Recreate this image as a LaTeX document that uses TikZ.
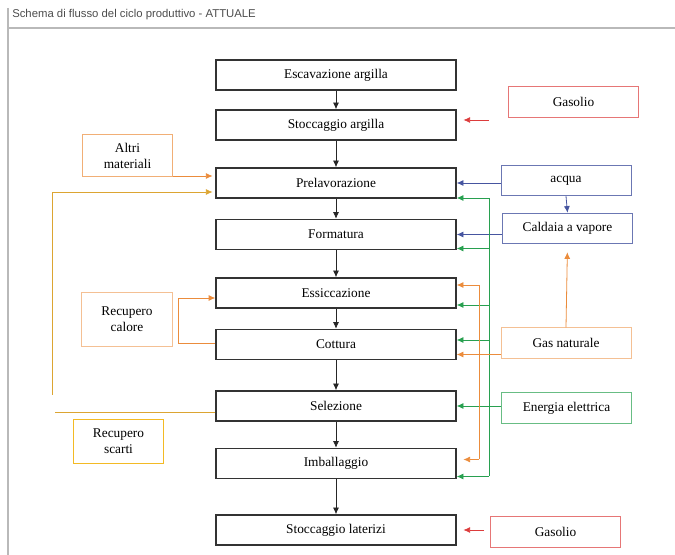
\documentclass[tikz,border=0pt]{standalone}
\usepackage{fontspec}
\setmainfont{Liberation Serif}
\newfontfamily\titlefont{Liberation Sans}
\usetikzlibrary{arrows.meta,calc}

\definecolor{cred}{RGB}{220,60,60}
\definecolor{cblue}{RGB}{70,85,160}
\definecolor{cgreen}{RGB}{40,160,80}
\definecolor{corange}{RGB}{235,140,60}
\definecolor{cyellow}{RGB}{220,165,50}

\begin{document}
\begin{tikzpicture}[x=0.75pt,y=0.75pt,yscale=-1,
  fase/.style={draw=black!80,line width=1.1pt,fill=white,minimum width=180pt,minimum height=22.5pt,inner sep=0.75pt,font=\fontsize{10}{12}\selectfont},
  ingresso/.style={draw,line width=0.6pt,minimum width=97.5pt,minimum height=23pt,inner sep=0.75pt,font=\fontsize{10}{12}\selectfont},
  laterale/.style={draw,line width=0.6pt,minimum width=68pt,inner sep=0.75pt,align=center,font=\fontsize{10}{12}\selectfont},
  freccia/.style={-{Latex[length=5pt,width=4.5pt]},line width=0.6pt},
  linea/.style={line width=0.6pt}]
\useasboundingbox (0,0) rectangle (675,555);

% Frame and title
\draw [color=gray!55,line width=0.8pt] (8,8) -- (8,555) ;
\draw [color=gray!55,line width=0.8pt] (8,28) -- (675,28) ;
\node (titolo) [anchor=west,inner sep=0.75pt,text=black!70,font=\titlefont\fontsize{8.5}{10}\selectfont] at (11,15) {Schema di flusso del ciclo produttivo - ATTUALE};

% Fasi del ciclo
\node (esc)  [fase] at (336,75)    {Escavazione argilla};
\node (stoA) [fase] at (336,125)   {Stoccaggio argilla};
\node (prel) [fase] at (336,183)   {Prelavorazione};
\node (form) [fase] at (336,234.5) {Formatura};
\node (ess)  [fase] at (336,293)   {Essiccazione};
\node (cot)  [fase] at (336,344.5) {Cottura};
\node (sel)  [fase] at (336,406)   {Selezione};
\node (imb)  [fase] at (336,463.5) {Imballaggio};
\node (stoB) [fase] at (336,530)   {Stoccaggio laterizi};

% Ingressi a destra
\node (gasA)    [ingresso,draw=cred!70]     at (573.5,102)  {Gasolio};
\node (acqua)   [ingresso,draw=cblue!80]    at (566,180.5)  {acqua};
\node (caldaia) [ingresso,draw=cblue!80]    at (567.5,228.5){Caldaia a vapore};
\node (gas)     [ingresso,draw=corange!55]  at (566,343)    {Gas naturale};
\node (energia) [ingresso,draw=cgreen!70]   at (566.5,408)  {Energia elettrica};
\node (gasB)    [ingresso,draw=cred!70]     at (555.5,532)  {Gasolio};

% Blocchi a sinistra
\node (altri)   [laterale,draw=corange!70,minimum height=32pt] at (127.5,155.5) {Altri\\materiali};
\node (calore)  [laterale,draw=corange!55,minimum height=41pt] at (127,319.5)   {Recupero\\calore};
\node (scarti)  [laterale,draw=corange!60!yellow,minimum height=33pt] at (118.5,441) {Recupero\\scarti};

% Flusso principale
\foreach \a/\b in {esc/stoA,stoA/prel,prel/form,form/ess,ess/cot,cot/sel,sel/imb,imb/stoB}
  \draw [freccia,color=black!85] (\a.south) -- (\b.north) ;

% Gasolio
\coordinate (gAend) at (489,120);
\draw [freccia,color=cred,shorten >=5pt] (gAend) -- (stoA.east |- gAend) ;
\coordinate (gBend) at ($(gasB.west)+(-6,-2)$);
\draw [freccia,color=cred,shorten >=5pt] (gBend) -- (stoB.east |- gBend) ;

% Acqua e vapore
\draw [freccia,color=cblue] (acqua.west |- prel.east) -- (prel.east) ;
\draw [freccia,color=cblue] (acqua.south) -- (caldaia.north) ;
\draw [freccia,color=cblue] (caldaia.west |- form.east) -- (form.east) ;

% Energia elettrica
\coordinate (gbus) at (489,0);
\coordinate (prelE) at ($(prel.east)+(0,15)$);
\coordinate (formE) at ($(form.east)+(0,14)$);
\coordinate (essE)  at ($(ess.east)+(0,12)$);
\coordinate (cotE)  at ($(cot.east)+(0,-4.5)$);
\coordinate (imbE)  at ($(imb.east)+(0,13)$);
\draw [linea,color=cgreen] (gbus |- prelE) -- (gbus |- imbE) ;
\foreach \p in {prelE,formE,essE,cotE,imbE}
  \draw [freccia,color=cgreen] (gbus |- \p) -- (\p) ;
\draw [freccia,color=cgreen] (energia.west |- sel.east) -- (sel.east) ;

% Gas naturale
\draw [freccia,color=corange,shorten >=6pt] (gas.north) -- (caldaia.south) ;
\coordinate (obus) at (479,0);
\coordinate (essO) at ($(ess.east)+(0,-8)$);
\coordinate (cotO) at ($(cot.east)+(0,10)$);
\coordinate (imbO) at ($(imb.east)+(0,-4)$);
\draw [freccia,color=corange] (gas.west |- cotO) -- (cotO) ;
\draw [linea,color=corange] (obus |- essO) -- (obus |- imbO) ;
\draw [freccia,color=corange] (obus |- essO) -- (essO) ;
\draw [freccia,color=corange,shorten >=5pt] (obus |- imbO) -- (imbO) ;

% Altri materiali e recupero scarti
\coordinate (prelA) at ($(prel.west)+(0,-7)$);
\coordinate (prelB) at ($(prel.west)+(0,9)$);
\draw [freccia,color=corange,shorten >=2pt] (altri.east |- prelA) -- (prelA) ;
\coordinate (lbus) at (52,395);
\draw [freccia,color=cyellow,shorten >=2pt] (lbus) |- (prelB) ;
\coordinate (selO) at ($(sel.west)+(0,6)$);
\coordinate (lend) at (55,0);
\draw [linea,color=cyellow] (selO) -- (lend |- selO) ;

% Recupero calore
\coordinate (rloop) at (178,0);
\coordinate (essW) at ($(ess.west)+(0,5)$);
\coordinate (cotW) at ($(cot.west)+(0,-1)$);
\draw [freccia,color=corange] (cotW) -- (rloop |- cotW) -- (rloop |- essW) -- (essW) ;

\end{tikzpicture}
\end{document}
